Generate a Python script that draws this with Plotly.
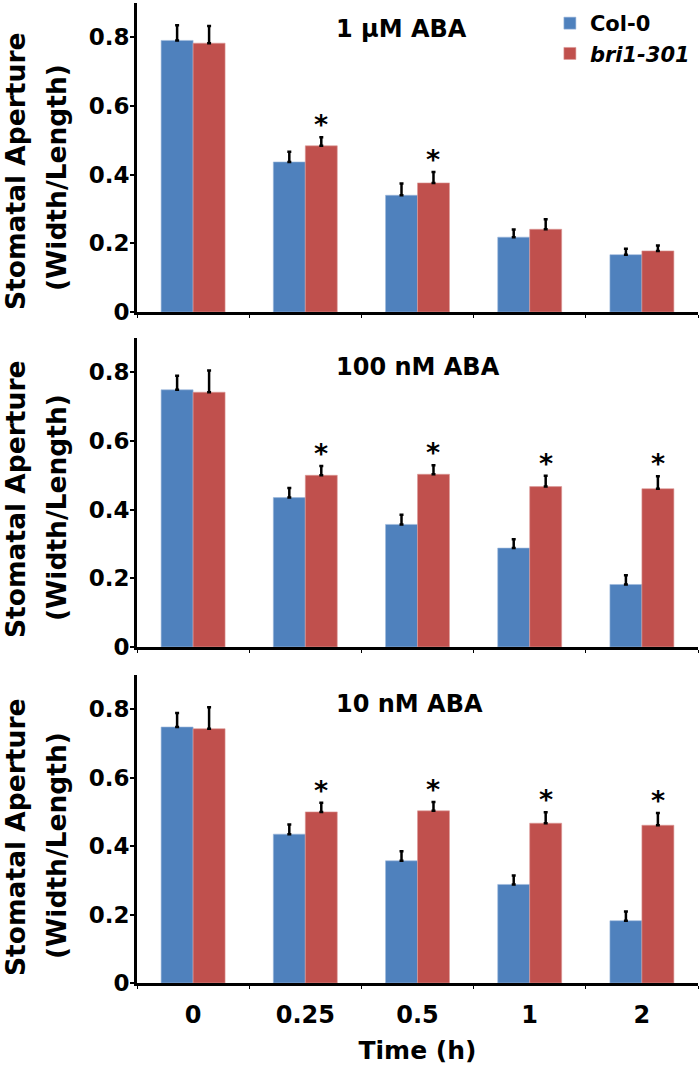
import plotly.graph_objects as go

# ---------------- data ----------------
times = ["0", "0.25", "0.5", "1", "2"]
panel_titles = ["1 µM ABA", "100 nM ABA", "10 nM ABA"]
series_names = ["Col-0", "<i>bri1-301</i>"]

col0_1uM = [0.791, 0.437, 0.340, 0.218, 0.167]
col0_1uM_err = [0.044, 0.030, 0.034, 0.022, 0.017]
bri_1uM = [0.783, 0.484, 0.376, 0.241, 0.178]
bri_1uM_err = [0.050, 0.025, 0.032, 0.029, 0.016]
sig_1uM = [False, True, True, False, False]

col0_100nM = [0.749, 0.435, 0.357, 0.288, 0.182]
col0_100nM_err = [0.041, 0.028, 0.028, 0.026, 0.027]
bri_100nM = [0.742, 0.500, 0.503, 0.467, 0.461]
bri_100nM_err = [0.063, 0.027, 0.026, 0.032, 0.036]
sig_100nM = [False, True, True, True, True]

col0_10nM = [0.748, 0.435, 0.357, 0.288, 0.182]
col0_10nM_err = [0.041, 0.028, 0.028, 0.026, 0.027]
bri_10nM = [0.743, 0.500, 0.503, 0.467, 0.461]
bri_10nM_err = [0.063, 0.027, 0.026, 0.032, 0.036]
sig_10nM = [False, True, True, True, True]

y_tickvals = [0, 0.2, 0.4, 0.6, 0.8]
y_ticktext = ["0", "0.2", "0.4", "0.6", "0.8"]

# ---------------- style ----------------
BLUE = "#4F81BD"
RED = "#C0504D"
FONT = "DejaVu Sans"
BAR_W = 0.285

panels = [
    (col0_1uM, col0_1uM_err, bri_1uM, bri_1uM_err, sig_1uM),
    (col0_100nM, col0_100nM_err, bri_100nM, bri_100nM_err, sig_100nM),
    (col0_10nM, col0_10nM_err, bri_10nM, bri_10nM_err, sig_10nM),
]

# plot area: top y=3px, bottom y=983px (height 980)
domains = [[0.6847, 1.0], [0.3429, 0.6582], [0.0, 0.3143]]
title_y = [0.9735, 0.6286, 0.2847]
ytitle1_y = [0.8286, 0.4939, 0.149]
ytitle2_y = [0.8224, 0.4857, 0.1408]

fig = go.Figure()
annotations = []

for p, (c, ce, b, be, sig) in enumerate(panels):
    n = "" if p == 0 else str(p + 1)
    xa, ya = "x" + n, "y" + n
    fig.add_trace(go.Bar(
        x=times, y=c, name=series_names[0], xaxis=xa, yaxis=ya,
        width=BAR_W, offset=-BAR_W, marker=dict(color=BLUE, line=dict(width=0.6, color="#9DB9DC")),
        error_y=dict(type="data", array=ce, arrayminus=[0]*len(ce), symmetric=False,
                     color="black", thickness=2.5, width=2),
        showlegend=(p == 0), legendgroup="c",
    ))
    fig.add_trace(go.Bar(
        x=times, y=b, name=series_names[1], xaxis=xa, yaxis=ya,
        width=BAR_W, offset=0, marker=dict(color=RED, line=dict(width=0.6, color="#DC9A98")),
        error_y=dict(type="data", array=be, arrayminus=[0]*len(be), symmetric=False,
                     color="black", thickness=2.5, width=2),
        showlegend=(p == 0), legendgroup="b",
    ))
    for i, s in enumerate(sig):
        if s:
            annotations.append(dict(
                x=i + BAR_W / 2, y=b[i] + be[i], xref=xa, yref=ya, text="*",
                showarrow=False, yanchor="bottom", yshift=-5,
                font=dict(family=FONT, size=27, color="black", weight="bold"),
            ))
    annotations.append(dict(
        x=0.352, y=title_y[p], xref="paper", yref="paper", text=panel_titles[p],
        showarrow=False, xanchor="left", yanchor="middle",
        font=dict(family=FONT, size=24, color="black", weight="bold"),
    ))
    annotations.append(dict(
        x=-0.2157, y=ytitle1_y[p], xref="paper", yref="paper", text="Stomatal Aperture",
        showarrow=False, xanchor="center", yanchor="middle", textangle=-90,
        font=dict(family=FONT, size=26.5, color="black", weight="bold"),
    ))
    annotations.append(dict(
        x=-0.1444, y=ytitle2_y[p], xref="paper", yref="paper", text="(Width/Length)",
        showarrow=False, xanchor="center", yanchor="middle", textangle=-90,
        font=dict(family=FONT, size=26.5, color="black", weight="bold"),
    ))

    xkey = "xaxis" + n
    ykey = "yaxis" + n
    fig.update_layout(**{
        xkey: dict(
            type="category", categoryorder="array", categoryarray=times,
            range=[-0.5, 4.5], domain=[0, 1], anchor=ya, automargin=False,
            showline=True, linecolor="black", linewidth=3,
            ticks="outside", tickson="boundaries", ticklen=3, tickwidth=1, tickcolor="black",
            showgrid=False, zeroline=False,
            showticklabels=(p == 2), ticklabelstandoff=8,
            tickfont=dict(family=FONT, size=24, color="black", weight="bold"),
            title=dict(text="Time (h)" if p == 2 else "", standoff=14,
                       font=dict(family=FONT, size=25, color="black", weight="bold")),
        ),
        ykey: dict(
            range=[0, 0.9], domain=domains[p], anchor=xa, automargin=False,
            tickvals=y_tickvals, ticktext=y_ticktext,
            showline=True, linecolor="black", linewidth=3,
            ticks="outside", ticklen=4, tickwidth=2, tickcolor="black",
            showgrid=False, zeroline=False, ticklabelstandoff=-4,
            tickfont=dict(family=FONT, size=23, color="black", weight="bold"),
        ),
    })

fig.update_layout(
    template="none",
    width=700, height=1070,
    margin=dict(l=137, r=2, t=3, b=87, autoexpand=False),
    paper_bgcolor="white", plot_bgcolor="white",
    barmode="overlay",
    font=dict(family=FONT, color="black", weight="bold"),
    annotations=annotations,
    legend=dict(x=0.736, y=1.0, xanchor="left", yanchor="top",
                font=dict(family=FONT, size=21, color="black", weight="bold"),
                bgcolor="rgba(0,0,0,0)", itemwidth=30, tracegroupgap=0),
)

fig.write_html("out.html", config={"displayModeBar": False},
               post_script="document.body.style.margin='0';")
